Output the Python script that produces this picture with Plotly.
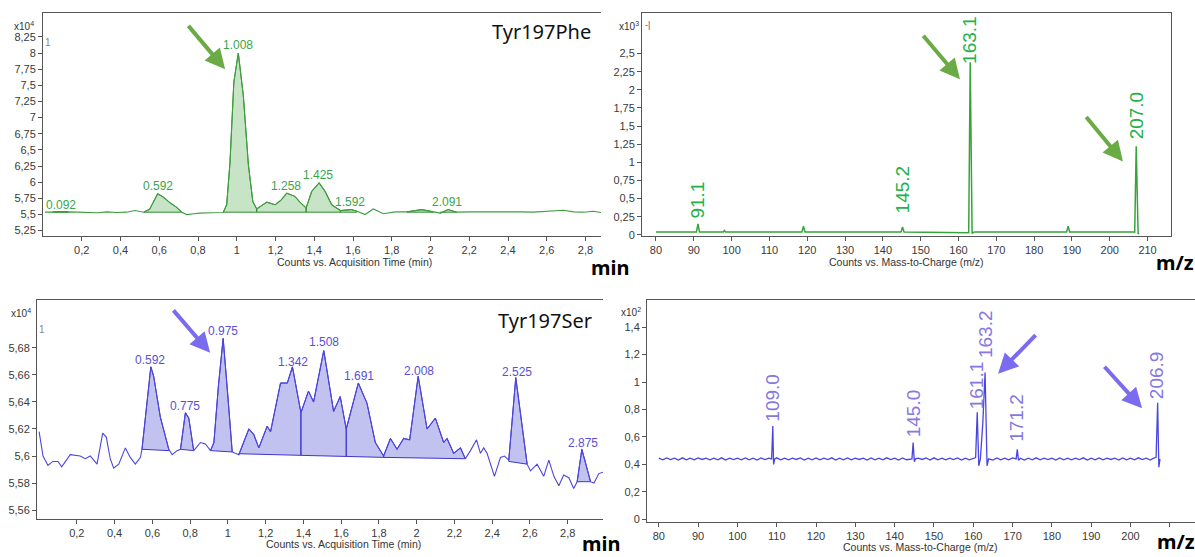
import plotly.graph_objects as go

W, H = 1195, 557

# ---------------- DATA ----------------
# Top-left: Tyr197Phe chromatogram (counts x10^4 vs time, min)
tl_points = [(0.01,5.535),(0.05,5.537),(0.092,5.545),(0.13,5.54),(0.18,5.535),(0.25,5.53),(0.28,5.525),
             (0.33,5.54),(0.38,5.53),(0.43,5.535),(0.475,5.56),(0.52,5.535),(0.55,5.58),(0.592,5.82),
             (0.62,5.77),(0.656,5.68),(0.69,5.61),(0.716,5.535),(0.742,5.498),(0.78,5.51),(0.81,5.52),
             (0.87,5.525),(0.93,5.53),(0.948,5.65),(0.965,6.3),(0.985,7.55),(1.008,8.0),(1.034,7.34),
             (1.06,6.27),(1.083,5.70),(1.103,5.585),(1.129,5.64),(1.155,5.69),(1.198,5.65),(1.228,5.72),
             (1.258,5.83),(1.30,5.78),(1.326,5.69),(1.358,5.60),(1.387,5.857),(1.425,5.99),(1.456,5.857),
             (1.490,5.65),(1.535,5.56),(1.592,5.575),(1.62,5.55),(1.662,5.498),(1.705,5.585),(1.757,5.51),
             (1.818,5.54),(1.878,5.54),(1.955,5.575),(2.015,5.54),(2.05,5.52),(2.091,5.575),(2.135,5.535),
             (2.2,5.54),(2.273,5.54),(2.34,5.545),(2.41,5.55),(2.47,5.54),(2.53,5.535),(2.6,5.545),
             (2.686,5.565),(2.74,5.54),(2.79,5.535),(2.84,5.55),(2.88,5.53)]
tl_regions = [(0.05,0.13,5.535,5.535),(0.52,0.716,5.535,5.535),(0.93,1.103,5.535,5.535),
              (1.103,1.358,5.535,5.535),(1.358,1.535,5.535,5.535),(1.535,1.62,5.535,5.535),
              (1.878,2.015,5.535,5.535),(2.05,2.135,5.535,5.535)]
tl_labels = [("0.092",0.092,5.647),("0.592",0.594,5.938),("1.008",1.006,8.132),("1.258",1.254,5.938),
             ("1.425",1.42,6.107),("1.592",1.585,5.693),("2.091",2.084,5.693)]

# Top-right: Tyr197Phe mass spectrum (counts x10^3 vs m/z)
tr_mz  = [80, 90.7, 91.1, 91.5, 97.8, 98.1, 98.4, 118.6, 119.0, 119.4, 144.8, 145.2, 145.6,
          162.5, 162.7, 163.1, 163.6, 164.2, 188.6, 189.0, 189.4, 206.5, 206.6, 207.0, 207.5, 207.8]
tr_int = [0.04, 0.04, 0.15, 0.04, 0.04, 0.06, 0.04, 0.04, 0.12, 0.04, 0.04, 0.11, 0.04,
          0.04, 0.03, 2.38, 0.02, 0.04, 0.04, 0.12, 0.04, 0.04, 0.03, 1.22, 0.02, 0.02]
tr_labels = [("91.1",91.1,0.485),("145.2",145.2,0.62),("163.1",163.1,2.69),("207.0",207.0,1.65)]

# Bottom-left: Tyr197Ser chromatogram (counts x10^4 vs time, min)
bl_points = [(0.0,5.618),(0.021,5.600),(0.047,5.593),(0.073,5.596),(0.10,5.596),(0.12,5.592),(0.165,5.601),
             (0.218,5.600),(0.245,5.598),(0.271,5.600),(0.307,5.594),(0.337,5.617),(0.356,5.614),(0.377,5.598),
             (0.395,5.591),(0.422,5.594),(0.457,5.606),(0.483,5.599),(0.510,5.594),(0.537,5.599),(0.545,5.605),
             (0.592,5.666),(0.607,5.659),(0.642,5.629),(0.687,5.605),(0.705,5.601),(0.731,5.604),(0.749,5.605),
             (0.775,5.632),(0.793,5.628),(0.819,5.604),(0.855,5.610),(0.881,5.609),(0.908,5.604),(0.926,5.610),
             (0.95,5.652),(0.975,5.687),(1.0,5.645),(1.023,5.603),(1.058,5.601),(1.111,5.620),(1.137,5.616),
             (1.164,5.606),(1.208,5.622),(1.226,5.618),(1.279,5.654),(1.315,5.654),(1.342,5.666),(1.387,5.632),
             (1.427,5.648),(1.454,5.640),(1.508,5.678),(1.560,5.633),(1.595,5.644),(1.627,5.620),(1.691,5.654),
             (1.737,5.639),(1.781,5.610),(1.825,5.600),(1.861,5.613),(1.896,5.605),(1.931,5.613),(1.963,5.612),
             (2.008,5.659),(2.055,5.620),(2.099,5.628),(2.143,5.610),(2.161,5.613),(2.196,5.602),(2.232,5.606),
             (2.258,5.598),(2.285,5.604),(2.317,5.612),(2.338,5.602),(2.355,5.606),(2.373,5.602),(2.412,5.585),
             (2.444,5.599),(2.465,5.600),(2.488,5.597),(2.525,5.658),(2.585,5.594),(2.603,5.589),(2.638,5.594),
             (2.673,5.585),(2.700,5.597),(2.727,5.585),(2.753,5.578),(2.779,5.586),(2.806,5.584),(2.832,5.576),
             (2.850,5.581),(2.875,5.605),(2.921,5.581),(2.939,5.580),(2.965,5.587),(2.987,5.588)]
bl_regions = [(0.545,0.687,5.605,5.604),(0.749,0.819,5.605,5.604),(0.908,1.023,5.604,5.603),
              (1.058,1.387,5.6017,5.6005),(1.387,1.627,5.6005,5.5997),(1.627,1.825,5.5997,5.599),
              (1.825,2.258,5.599,5.598),(2.488,2.585,5.596,5.594),(2.850,2.921,5.581,5.581)]
bl_labels = [("0.592",0.587,5.6714),("0.775",0.773,5.6373),("0.975",0.973,5.6922),("1.342",1.346,5.6697),
             ("1.508",1.507,5.6844),("1.691",1.692,5.6595),("2.008",2.011,5.6631),("2.525",2.533,5.6624),
             ("2.875",2.883,5.6099)]

# Bottom-right: Tyr197Ser mass spectrum (counts x10^2 vs m/z)
br_base_mz = list(range(80, 208))
br_base_int = [0.446,0.433,0.447,0.435,0.445,0.432,0.448,0.434,0.446,0.433,
               0.447,0.436,0.445,0.433,0.446,0.434,0.448,0.432,0.446,0.435,
               0.445,0.433,0.447,0.434,0.446,0.432,0.447,0.435,0.445,0.433,
               0.448,0.434,0.446,0.433,0.445,0.436,0.447,0.432,0.446,0.434,
               0.447,0.433,0.445,0.435,0.448,0.432,0.446,0.434,0.447,0.433,
               0.445,0.436,0.446,0.432,0.447,0.434,0.445,0.433,0.448,0.435,
               0.446,0.432,0.447,0.434,0.445,0.433,0.446,0.436,0.447,0.432,
               0.448,0.434,0.445,0.433,0.446,0.435,0.447,0.432,0.445,0.434,
               0.446,0.433,0.448,0.435,0.445,0.432,0.447,0.434,0.446,0.433,
               0.447,0.436,0.445,0.432,0.446,0.434,0.448,0.433,0.445,0.435,
               0.446,0.432,0.447,0.434,0.445,0.433,0.446,0.435,0.448,0.432,
               0.445,0.434,0.447,0.433,0.446,0.436,0.445,0.432,0.447,0.434,
               0.446,0.433,0.448,0.435,0.445,0.432,0.447,0.434]
br_peak_pts = [(108.7,0.44),(109.0,0.68),(109.2,0.40),(109.5,0.44),
               (144.4,0.44),(144.7,0.56),(145.0,0.42),(145.3,0.44),
               (160.6,0.45),(161.0,0.78),(161.4,0.39),(161.8,0.44),(162.4,0.69),(163.0,1.07),
               (163.5,0.39),(163.9,0.44),
               (170.9,0.44),(171.2,0.51),(171.5,0.43),
               (206.5,0.45),(206.9,0.85),(207.2,0.38),(207.5,0.44)]
br_labels = [("109.0",109.0,0.885),("145.0",144.8,0.769),("161.1",160.9,0.975),("163.2",163.3,1.352),
             ("171.2",171.1,0.739),("206.9",206.8,1.052)]

# tick values
tl_yticks = [5.25,5.5,5.75,6,6.25,6.5,6.75,7,7.25,7.5,7.75,8,8.25]
tr_yticks = [0,0.25,0.5,0.75,1,1.25,1.5,1.75,2,2.25,2.5]
bl_yticks = [5.56,5.58,5.6,5.62,5.64,5.66,5.68]
br_yticks = [0,0.2,0.4,0.6,0.8,1,1.2,1.4]
time_ticks = [0.2,0.4,0.6,0.8,1,1.2,1.4,1.6,1.8,2,2.2,2.4,2.6,2.8]
tr_xticks = [80,90,100,110,120,130,140,150,160,170,180,190,200,210]
br_xticks = [80,90,100,110,120,130,140,150,160,170,180,190,200,210]
br_xtick_shown = [True]*13 + [False]

# ---------------- STYLE ----------------
GREEN_LINE = "#3f9e3f"
GREEN_EDGE = "#2e8b2e"
GREEN_FILL = "rgba(80,170,80,0.32)"
GREEN_TXT = "#3aa548"
GREEN_MS = "#22b14c"
GREEN_ARROW = "#6aab45"
PURP_LINE = "#4c45da"
PURP_EDGE = "#3d37c8"
PURP_FILL = "rgba(95,95,215,0.38)"
PURP_TXT = "#5b4fd6"
PURP_MS = "#8678e2"
PURP_ARROW = "#7a6bef"
TICKFONT = dict(family="Liberation Sans Narrow, Arial Narrow, Liberation Sans, sans-serif", size=11, color="#3a3a3a")
LBLFONT = "Liberation Sans Narrow, Arial Narrow, Liberation Sans, sans-serif"

def fmt(v):
    return f"{v:g}".replace(".", ",")

def P(px):
    return px / W

def Q(py):
    return 1 - py / H

fig = go.Figure()

def add_curve(points, regions, color, edge, fill, xa, ya, width=1.1):
    for (x0, x1, b0, b1) in regions:
        seg = [(x, y) for x, y in points if x0 <= x <= x1]
        xs = [p[0] for p in seg] + [x1, x0, seg[0][0]]
        ys = [p[1] for p in seg] + [b1, b0, seg[0][1]]
        fig.add_trace(go.Scatter(x=xs, y=ys, mode="lines", fill="toself", fillcolor=fill,
                                 line=dict(color=edge, width=1), xaxis=xa, yaxis=ya, hoverinfo="skip"))
    fig.add_trace(go.Scatter(x=[p[0] for p in points], y=[p[1] for p in points], mode="lines",
                             line=dict(color=color, width=width), xaxis=xa, yaxis=ya))

add_curve(tl_points, tl_regions, GREEN_LINE, GREEN_EDGE, GREEN_FILL, "x", "y")
add_curve(bl_points, bl_regions, PURP_LINE, PURP_EDGE, PURP_FILL, "x3", "y3")

fig.add_trace(go.Scatter(x=tr_mz, y=tr_int, mode="lines", line=dict(color="#35a53a", width=1.5),
                         xaxis="x2", yaxis="y2"))

# merge baseline noise with peak profile for bottom-right spectrum
peak_x = [p[0] for p in br_peak_pts]
br_all = [(m, v) for m, v in zip(br_base_mz, br_base_int) if all(abs(m - px) > 0.45 for px in peak_x)]
br_all += br_peak_pts
br_all.sort()
fig.add_trace(go.Scatter(x=[p[0] for p in br_all], y=[p[1] for p in br_all], mode="lines",
                         line=dict(color="#4a44e0", width=1.3), xaxis="x4", yaxis="y4"))

ann = []
for t, x, y in tl_labels:
    ann.append(dict(text=t, x=x, y=y, xref="x", yref="y", showarrow=False,
                    font=dict(family=LBLFONT, size=12, color=GREEN_TXT)))
for t, x, y in bl_labels:
    ann.append(dict(text=t, x=x, y=y, xref="x3", yref="y3", showarrow=False,
                    font=dict(family=LBLFONT, size=12, color=PURP_TXT)))
for t, x, y in tr_labels:
    ann.append(dict(text=t, x=x, y=y, xref="x2", yref="y2", showarrow=False, textangle=-90,
                    xanchor="center", yanchor="middle",
                    font=dict(family="Liberation Sans, Arial, sans-serif", size=19, color=GREEN_MS)))
for t, x, y in br_labels:
    ann.append(dict(text=t, x=x, y=y, xref="x4", yref="y4", showarrow=False, textangle=-90,
                    xanchor="center", yanchor="middle",
                    font=dict(family="Liberation Sans, Arial, sans-serif", size=19, color=PURP_MS)))

# arrows: (head x, head y, tail dx px, tail dy px, xref, yref, color)
arrows = [(0.94, 7.748, -38, -45, "x", "y", GREEN_ARROW),
          (160.4, 2.145, -38, -45, "x2", "y2", GREEN_ARROW),
          (203.5, 1.011, -38, -46, "x2", "y2", GREEN_ARROW),
          (0.906, 5.6763, -38, -44, "x3", "y3", PURP_ARROW),
          (166.3, 1.061, 39, -40, "x4", "y4", PURP_ARROW),
          (202.95, 0.809, -39, -43, "x4", "y4", PURP_ARROW)]
for hx, hy, dx, dy, xr, yr, c in arrows:
    ann.append(dict(text="", x=hx, y=hy, xref=xr, yref=yr, ax=dx, ay=dy, axref="pixel", ayref="pixel",
                    showarrow=True, arrowhead=2, arrowsize=1.0, arrowwidth=4, arrowcolor=c, standoff=0))

def pann(text, px, py, size=10, color="#333", family=LBLFONT, bold=False, xanchor="center"):
    if bold:
        text = "<b>" + text + "</b>"
    ann.append(dict(text=text, x=P(px), y=Q(py), xref="paper", yref="paper", showarrow=False,
                    xanchor=xanchor, yanchor="middle", font=dict(size=size, color=color, family=family)))

pann("Tyr197Phe", 541, 32, size=20, color="#111", family="Noto Sans, Open Sans, sans-serif")
pann("Tyr197Ser", 545, 323, size=20, color="#111", family="Noto Sans, Open Sans, sans-serif")
pann("min", 610, 270, size=20, color="#000", family="Noto Sans, sans-serif", bold=True)
pann("min", 601, 548, size=20, color="#000", family="Noto Sans, sans-serif", bold=True)
pann("m/z", 1175, 265, size=20, color="#000", family="Noto Sans, sans-serif", bold=True)
pann("m/z", 1176, 546, size=20, color="#000", family="Noto Sans, sans-serif", bold=True)
pann("Counts vs. Acquisition Time (min)", 354, 264, size=10.5)
pann("Counts vs. Mass-to-Charge (m/z)", 906, 264, size=10.5)
pann("Counts vs. Acquisition Time (min)", 343, 549, size=10.5)
pann("Counts vs. Mass-to-Charge (m/z)", 920, 552, size=10.5)
pann("x10<sup>4</sup>", 24, 26, size=10)
pann("x10<sup>3</sup>", 629, 26, size=10)
pann("x10<sup>4</sup>", 21, 316, size=10)
pann("x10<sup>2</sup>", 631, 315, size=10)
pann("1", 48, 43, size=10, color="#888")
pann("1", 42, 332, size=10, color="#888")
pann("-|", 648, 25, size=9, color="#b03050")

def xax(dom, rng, ticks, texts=None):
    return dict(domain=[P(dom[0]), P(dom[1])], range=rng, tickmode="array", tickvals=ticks,
                ticktext=texts if texts else [fmt(v) for v in ticks],
                showline=True, linecolor="#555", linewidth=1, mirror=True, ticks="outside", ticklen=4,
                tickcolor="#555", showgrid=False, zeroline=False, tickfont=TICKFONT)

def yax(dom, rng, ticks, anchor, mirror=False):
    return dict(domain=[Q(dom[1]), Q(dom[0])], range=rng, tickmode="array", tickvals=ticks,
                ticktext=[fmt(v) for v in ticks], anchor=anchor,
                showline=True, linecolor="#555", linewidth=1, mirror=mirror, ticks="outside", ticklen=4,
                tickcolor="#555", showgrid=False, zeroline=False, tickfont=TICKFONT)

br_xtext = [fmt(v) if s else "" for v, s in zip(br_xticks, br_xtick_shown)]

fig.update_layout(
    width=W, height=H, margin=dict(l=0, r=0, t=0, b=0),
    paper_bgcolor="white", plot_bgcolor="white", showlegend=False,
    xaxis=dict(xax((43, 601), [0, 2.88], time_ticks), anchor="y"),
    yaxis=yax((13, 238), [5.168, 8.623], tl_yticks, "x"),
    xaxis2=dict(xax((642, 1171), [76.3, 216.2], tr_xticks), anchor="y2"),
    yaxis2=yax((13, 238), [-0.014, 3.06], tr_yticks, "x2", mirror=True),
    xaxis3=dict(xax((37, 603), [-0.011, 2.987], time_ticks), anchor="y3"),
    yaxis3=yax((303, 524), [5.5532, 5.7152], bl_yticks, "x3"),
    xaxis4=dict(xax((647, 1195), [77.0, 216.4], br_xticks, br_xtext), anchor="y4"),
    yaxis4=yax((303, 527), [-0.0217, 1.596], br_yticks, "x4"),
    annotations=ann,
)

fig.write_html("out.html")
